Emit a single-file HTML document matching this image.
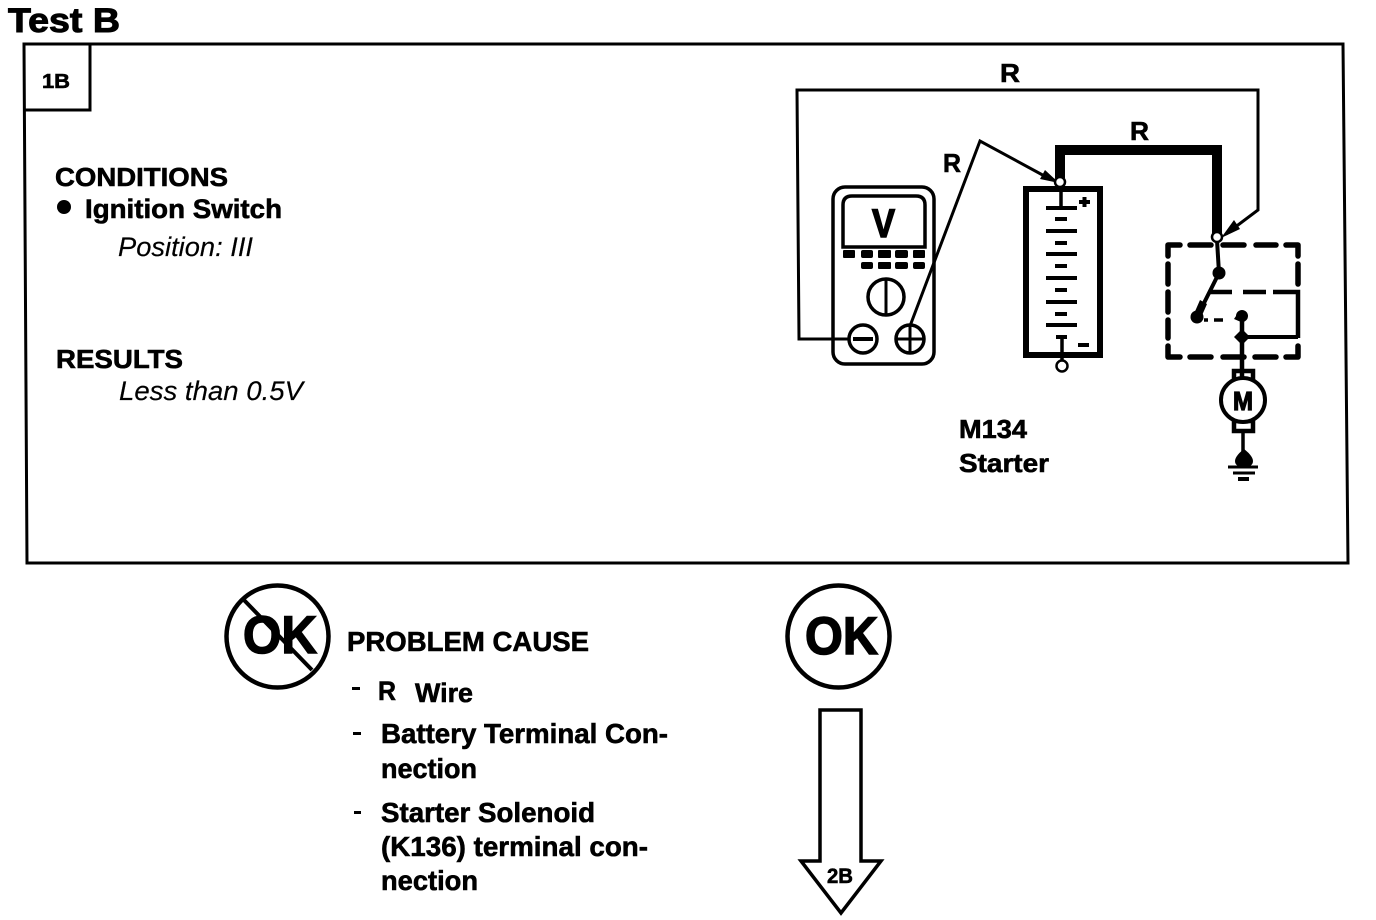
<!DOCTYPE html>
<html><head><meta charset="utf-8"><style>
html,body{margin:0;padding:0;background:#fff}
svg{display:block}
text{font-family:"Liberation Sans",sans-serif;font-weight:bold;fill:#000;stroke:#000;stroke-width:.6px}
.i{font-style:italic;font-weight:normal;stroke-width:.15px}
</style></head><body>
<svg width="1376" height="920" viewBox="0 0 1376 920" xmlns="http://www.w3.org/2000/svg">
<rect width="1376" height="920" fill="#fff"/>
<g fill="none" stroke="#000" stroke-width="3">
<polygon points="24,44 1343,44 1348,563 27,563"/>
<polyline points="24,110 90,110 90,44"/>
<!-- meter -->
<rect x="833" y="187" width="101" height="177" rx="12" stroke-width="3.5"/>
<path d="M843,247V205Q843,196 852,196H916Q925,196 925,205V247Z" stroke-width="3.5"/>
<circle cx="886" cy="297" r="18" stroke-width="3.5"/>
<line x1="886" y1="279" x2="886" y2="315"/>
<circle cx="863" cy="339" r="14" stroke-width="3.5"/>
<line x1="853" y1="339" x2="873" y2="339" stroke-width="4"/>
<circle cx="910" cy="339" r="14" stroke-width="3.5"/>
<line x1="897" y1="339" x2="924" y2="339"/>
<line x1="910" y1="326" x2="910" y2="353"/>
<!-- wires -->
<polyline points="849,339 799,339 797,90 1258,90 1258,210 1226,234" stroke-width="3"/>
<polyline points="910,326 980,141 1050,179" stroke-width="3"/>
<polyline points="1060,178 1060,150 1217,150 1217,234" stroke-width="10" stroke-linejoin="miter"/>
<!-- battery -->
<rect x="1026" y="189" width="74" height="166" stroke-width="6"/>
<line x1="1061" y1="190" x2="1061" y2="208" stroke-width="3.500"/>
<line x1="1062" y1="337" x2="1062" y2="360" stroke-width="3.500"/>
<g stroke-width="4">
<path d="M1046,208H1077M1046,231H1077M1046,254H1077M1046,278H1077M1046,302H1077M1046,325H1077"/>
<path d="M1055,219H1067M1055,243H1067M1055,266H1067M1055,290H1067M1055,314H1067M1056,337H1067"/>
<path d="M1079,202H1090M1084.500,197V207M1078,345H1089"/>
</g>
<!-- dashed box -->
<g stroke-width="5.500" stroke-linecap="round" stroke-linejoin="round">
<path d="M1180,245H1168V256M1190,245H1211M1223,245H1244M1256,245H1276M1286,245H1298V256"/>
<path d="M1168,264V284M1168,292V312M1168,320V338M1168,346V357H1180"/>
<path d="M1298,264V284M1298,346V357H1286"/>
<path d="M1190,357H1211M1223,357H1244M1255,357H1276"/>
</g>
<path d="M1210,292H1232M1243,292H1266M1273,292H1298V338" stroke-width="4.500"/>
<path d="M1204,320H1208M1214,320H1223" stroke-width="3.500"/>
<polyline points="1217,240 1219,273 1197,317" stroke-width="4"/>
<polyline points="1242,316 1242,378" stroke-width="4.500"/>
<line x1="1242" y1="337" x2="1298" y2="337" stroke-width="4"/>
<!-- motor -->
<rect x="1234" y="371" width="19" height="9" stroke-width="4.500"/>
<rect x="1234" y="421" width="19" height="10" stroke-width="4.500"/>
<circle cx="1243" cy="400" r="22" fill="#fff" stroke-width="4"/>
<line x1="1243" y1="431" x2="1243" y2="452" stroke-width="3.500"/>
<path d="M1228,467H1258M1233,473H1255" stroke-width="3"/>
<path d="M1238,479H1249" stroke-width="4"/>
<!-- OK circles -->
<circle cx="277.500" cy="636.500" r="51" stroke-width="4.500"/>
<circle cx="838.500" cy="636.500" r="51" stroke-width="4.500"/>
<polygon points="820,861 820,710 861,710 861,861 881,861 841,913 801,861" stroke-width="3.500" stroke-linejoin="miter"/>
</g>
<g fill="#000">
<polygon points="1059,183 1040,179 1045,170"/>
<polygon points="1221,238 1234,220 1240,229"/>
<circle cx="1219" cy="273" r="6.500"/>
<circle cx="1197" cy="317" r="6.500"/>
<polygon points="1200,300 1207,304 1200,320 1193,316"/>
<path d="M1242,310a6,6 0 1 1 0,12l-1,0l-7,-3l2,-3a6,6 0 0 1 6,-6Z"/>
<polygon points="1242,329 1250,337 1242,345 1234,337"/>
<path d="M1244,449C1248,452 1253,457 1253,461C1253,465 1250,467 1244,467C1238,467 1235,465 1235,461C1235,457 1240,452 1244,449Z"/>
<circle cx="64" cy="207" r="7"/>
<rect x="843" y="250" width="12" height="8" rx="1"/><rect x="861" y="250" width="12" height="8" rx="2"/><rect x="878" y="250" width="13" height="8" rx="1"/><rect x="895" y="250" width="13" height="8" rx="2"/><rect x="913" y="250" width="12" height="8" rx="1"/>
<rect x="861" y="262" width="12" height="7" rx="2"/><rect x="878" y="262" width="13" height="7" rx="1"/><rect x="895" y="262" width="13" height="7" rx="2"/><rect x="913" y="262" width="12" height="7" rx="2"/>
<rect x="352" y="687" width="8" height="3"/><rect x="353" y="732" width="8" height="3"/><rect x="354" y="811" width="7" height="3"/>
</g>
<g fill="#fff" stroke="#000" stroke-width="2.500">
<circle cx="1060" cy="182" r="5"/>
<circle cx="1217" cy="237" r="5"/>
<circle cx="1062" cy="366" r="5.500"/>
</g>
<line x1="242" y1="598" x2="312" y2="670" stroke="#000" stroke-width="4"/>
<text x="8" y="32" font-size="34" textLength="112" lengthAdjust="spacingAndGlyphs" style="stroke-width:1px">Test B</text>
<text x="42" y="88" font-size="20" textLength="28" lengthAdjust="spacingAndGlyphs">1B</text>
<text x="55" y="186" font-size="26" textLength="173" lengthAdjust="spacingAndGlyphs">CONDITIONS</text>
<text x="85" y="218" font-size="27" textLength="197" lengthAdjust="spacingAndGlyphs">Ignition Switch</text>
<text class="i" x="118" y="256" font-size="27" textLength="135" lengthAdjust="spacingAndGlyphs">Position: III</text>
<text x="56" y="368" font-size="26" textLength="127" lengthAdjust="spacingAndGlyphs">RESULTS</text>
<text class="i" x="119" y="400" font-size="27" textLength="184" lengthAdjust="spacingAndGlyphs">Less than 0.5V</text>
<text x="872" y="237" font-size="40" textLength="23" lengthAdjust="spacingAndGlyphs" style="stroke-width:1.5px">V</text>
<text x="1000" y="82" font-size="26" textLength="20" lengthAdjust="spacingAndGlyphs">R</text>
<text x="1130" y="140" font-size="26" textLength="19" lengthAdjust="spacingAndGlyphs">R</text>
<text x="943" y="172" font-size="26" textLength="18" lengthAdjust="spacingAndGlyphs">R</text>
<text x="1233" y="410" font-size="26" textLength="20" lengthAdjust="spacingAndGlyphs" style="stroke-width:1.2px">M</text>
<text x="959" y="438" font-size="26" textLength="68" lengthAdjust="spacingAndGlyphs">M134</text>
<text x="959" y="472" font-size="26" textLength="90" lengthAdjust="spacingAndGlyphs">Starter</text>
<text x="243" y="653" font-size="53" textLength="74" lengthAdjust="spacingAndGlyphs" style="stroke-width:1.5px">OK</text>
<text x="805" y="654" font-size="53" textLength="73" lengthAdjust="spacingAndGlyphs" style="stroke-width:1.5px">OK</text>
<text x="827" y="883" font-size="21" textLength="26" lengthAdjust="spacingAndGlyphs">2B</text>
<text x="347" y="651" font-size="28" textLength="242" lengthAdjust="spacingAndGlyphs">PROBLEM CAUSE</text>
<text x="378" y="700" font-size="27" textLength="18" lengthAdjust="spacingAndGlyphs">R</text>
<text x="415" y="702" font-size="27" textLength="58" lengthAdjust="spacingAndGlyphs">Wire</text>
<text x="381" y="743" font-size="28" textLength="287" lengthAdjust="spacingAndGlyphs">Battery Terminal Con-</text>
<text x="381" y="778" font-size="28" textLength="96" lengthAdjust="spacingAndGlyphs">nection</text>
<text x="381" y="822" font-size="28" textLength="214" lengthAdjust="spacingAndGlyphs">Starter Solenoid</text>
<text x="381" y="856" font-size="28" textLength="267" lengthAdjust="spacingAndGlyphs">(K136) terminal con-</text>
<text x="381" y="890" font-size="28" textLength="97" lengthAdjust="spacingAndGlyphs">nection</text>
</svg>
</body></html>
